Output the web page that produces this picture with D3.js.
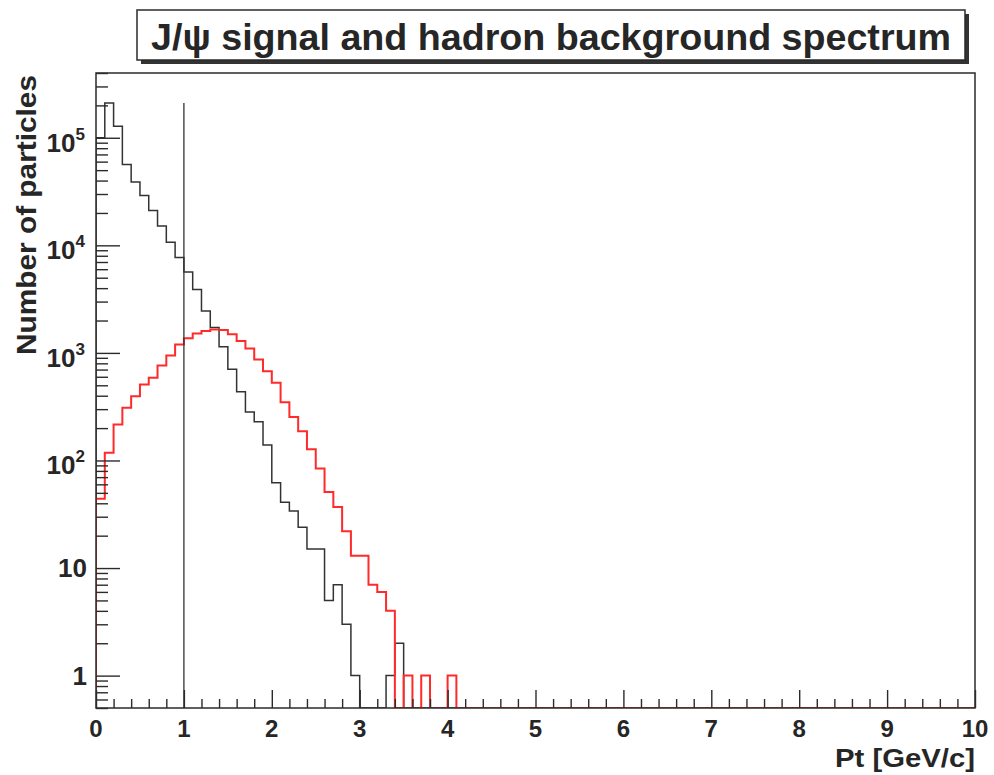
<!DOCTYPE html>
<html lang="en">
<head>
    <meta charset="UTF-8">
    <title>J/psi signal and hadron background spectrum</title>
    <script src="https://cdn.jsdelivr.net/npm/d3@7"></script>
    <style>
        body {
            margin: 0;
            background-color: #fff;
            font-family: 'Liberation Sans', Arial, sans-serif;
        }
        svg {
            display: block;
        }
        .label {
            font-weight: bold;
            fill: #262626;
        }
    </style>
</head>
<body>
    <svg id="chart" width="994" height="775"></svg>

    <script>
        // bin contents, 0.1 GeV/c wide bins from 0; bins past the end of a list are empty
        const hadronCounts = [
            100000, 210000, 128000, 56500, 38700, 29100, 21100, 15100, 10700, 7700,
            5650, 3890, 2450, 1720, 1140, 705, 435, 283, 229, 139,
            62, 41, 34, 24, 15, 15, 5, 7, 3, 1,
            0, 0, 0, 1, 2
        ];
        const jpsiCounts = [
            44, 118, 216, 309, 396, 509, 588, 765, 948, 1200,
            1365, 1518, 1595, 1654, 1630, 1487, 1288, 1101, 870, 677,
            528, 347, 254, 187, 127, 84, 51, 37, 22, 13,
            13, 7, 6, 4, 0, 1, 0, 1, 0, 0,
            1
        ];
        const binWidth = 0.1;
        const xMax = 10;
        const cutPt = 1;

        const xTickValues = [0, 1, 2, 3, 4, 5, 6, 7, 8, 9, 10];
        const yTickValues = [1, 10, 100, 1000, 10000, 100000];
        const yTickBase = ["1", "10", "10", "10", "10", "10"];
        const yTickExp = ["", "", "2", "3", "4", "5"];

        const width = 994;
        const height = 775;
        const margin = { left: 96, right: 19, top: 73, bottom: 67 };

        const svg = d3.select("#chart");

        const x = d3.scaleLinear()
            .domain([0, xMax])
            .range([margin.left, width - margin.right]);

        const y = d3.scaleLog()
            .domain([0.5, 4e5])
            .range([height - margin.bottom, margin.top]);

        const yBottom = y.range()[0];
        const yTop = y.range()[1];

        svg.append("defs").append("clipPath")
            .attr("id", "plot-clip")
            .append("rect")
            .attr("x", x(0))
            .attr("y", yTop)
            .attr("width", x(xMax) - x(0))
            .attr("height", yBottom - yTop);

        // histogram outline in ROOT style: empty bins sit on the frame bottom
        function histPoints(counts) {
            const nBins = Math.round(xMax / binWidth);
            const floor = y.domain()[0];
            const pts = [[0, floor]];
            for (let i = 0; i < nBins; i++) {
                const v = i < counts.length ? counts[i] : 0;
                pts.push([i * binWidth, v > 0 ? v : floor]);
            }
            pts.push([nBins * binWidth, pts[pts.length - 1][1]]);
            pts.push([nBins * binWidth, floor]);
            return pts;
        }

        const stepLine = d3.line()
            .x(d => x(d[0]))
            .y(d => y(d[1]))
            .curve(d3.curveStepAfter);

        const plot = svg.append("g").attr("clip-path", "url(#plot-clip)");

        plot.append("path")
            .attr("d", stepLine(histPoints(hadronCounts)))
            .attr("fill", "none")
            .attr("stroke", "#333")
            .attr("stroke-width", 1.5);

        plot.append("path")
            .attr("d", stepLine(histPoints(jpsiCounts)))
            .attr("fill", "none")
            .attr("stroke", "#ff2a2a")
            .attr("stroke-width", 2);

        // cut line at Pt = 1 GeV/c
        svg.append("line")
            .attr("x1", x(cutPt)).attr("x2", x(cutPt))
            .attr("y1", yBottom).attr("y2", y(d3.max(hadronCounts)))
            .attr("stroke", "#333")
            .attr("stroke-width", 1.3);

        // frame
        svg.append("rect")
            .attr("x", x(0))
            .attr("y", yTop)
            .attr("width", x(xMax) - x(0))
            .attr("height", yBottom - yTop)
            .attr("fill", "none")
            .attr("stroke", "#2b2b2b")
            .attr("stroke-width", 1.5);

        // y axis ticks, pointing into the frame
        const yMinor = [];
        [0.1, 1, 10, 100, 1000, 10000, 100000].forEach(dec => {
            for (let k = 2; k <= 9; k++) {
                const v = k * dec;
                if (v >= y.domain()[0] && v <= y.domain()[1]) yMinor.push(v);
            }
        });

        const yAxisG = svg.append("g").attr("transform", `translate(${x(0)},0)`);
        yAxisG.call(d3.axisLeft(y).tickValues(yTickValues).tickSize(-24).tickFormat(""));
        yAxisG.call(g => g.select(".domain").remove());
        yAxisG.append("g").call(d3.axisLeft(y).tickValues(yMinor).tickSize(-12).tickFormat(""))
            .call(g => g.select(".domain").remove());
        yAxisG.selectAll("line").attr("stroke", "#2b2b2b").attr("stroke-width", 1.4);

        const yLab = svg.append("g");
        yTickValues.forEach((v, i) => {
            const hasExp = yTickExp[i] !== "";
            const t = yLab.append("text")
                .attr("class", "label")
                .attr("x", hasExp ? 85 : 87)
                .attr("y", y(v) + (hasExp ? 14 : 9))
                .attr("text-anchor", "end")
                .style("font-size", "26px");
            t.append("tspan").text(yTickBase[i]);
            if (hasExp) {
                t.append("tspan")
                    .attr("dy", -12)
                    .style("font-size", "17px")
                    .text(yTickExp[i]);
            }
        });

        // x axis ticks
        const xMinor = d3.range(0, xMax * 5 + 1).map(k => k / 5).filter(v => !Number.isInteger(v));
        const xAxisG = svg.append("g").attr("transform", `translate(0,${yBottom})`);
        xAxisG.call(d3.axisBottom(x).tickValues(xTickValues).tickSize(-18).tickFormat(""));
        xAxisG.append("g").call(d3.axisBottom(x).tickValues(xMinor).tickSize(-9).tickFormat(""))
            .call(g => g.select(".domain").remove());
        xAxisG.selectAll(".domain").remove();
        xAxisG.selectAll("line").attr("stroke", "#2b2b2b").attr("stroke-width", 1.4);

        svg.append("g").selectAll("text")
            .data(xTickValues)
            .enter().append("text")
            .attr("class", "label")
            .attr("x", d => x(d))
            .attr("y", 737)
            .attr("text-anchor", "middle")
            .style("font-size", "24px")
            .text(d => d);

        // axis titles
        svg.append("text")
            .attr("class", "label")
            .attr("transform", "translate(36,215) rotate(-90)")
            .attr("text-anchor", "middle")
            .attr("textLength", 280)
            .attr("lengthAdjust", "spacingAndGlyphs")
            .style("font-size", "27px")
            .text("Number of particles");

        svg.append("text")
            .attr("class", "label")
            .attr("x", 975)
            .attr("y", 767)
            .attr("text-anchor", "end")
            .attr("textLength", 140)
            .attr("lengthAdjust", "spacingAndGlyphs")
            .style("font-size", "25px")
            .text("Pt [GeV/c]");

        // title box with shadow
        const titleBox = { x: 137, y: 10, w: 828, h: 50 };
        svg.append("rect")
            .attr("x", titleBox.x + 4).attr("y", titleBox.y + 4)
            .attr("width", titleBox.w).attr("height", titleBox.h)
            .attr("fill", "#333");
        svg.append("rect")
            .attr("x", titleBox.x).attr("y", titleBox.y)
            .attr("width", titleBox.w).attr("height", titleBox.h)
            .attr("fill", "#fff")
            .attr("stroke", "#2b2b2b")
            .attr("stroke-width", 1.5);
        svg.append("text")
            .attr("class", "label")
            .attr("x", titleBox.x + titleBox.w / 2)
            .attr("y", 50)
            .attr("text-anchor", "middle")
            .attr("textLength", 800)
            .attr("lengthAdjust", "spacingAndGlyphs")
            .style("font-size", "37px")
            .text("J/\u03c8 signal and hadron background spectrum");
    </script>
</body>
</html>
